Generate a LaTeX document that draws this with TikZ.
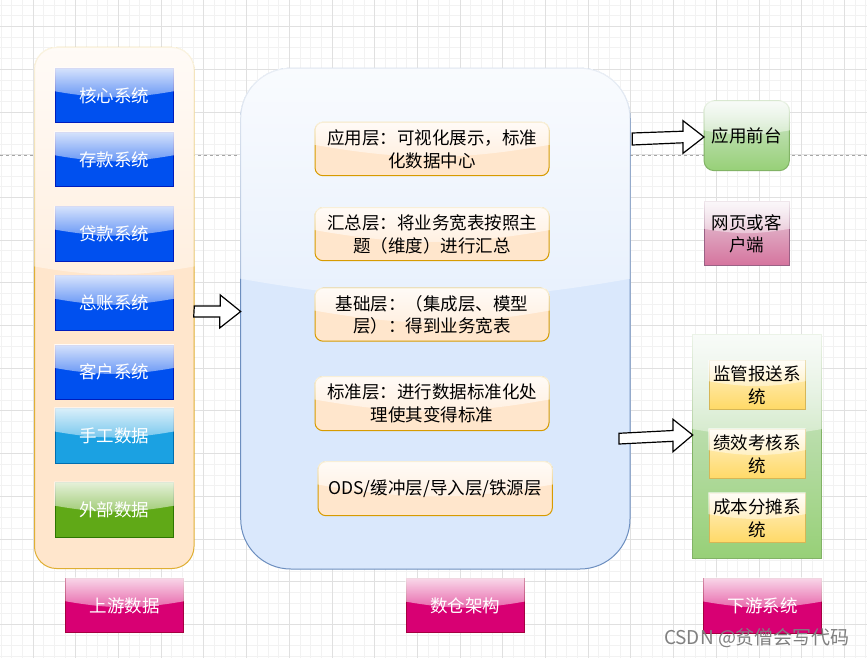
\documentclass[tikz,border=0pt]{standalone}
\usepackage{fontspec}
\setmainfont{Noto Sans CJK SC}
\usetikzlibrary{calc,fadings}
\pgfdeclarelayer{grid}
\pgfdeclarelayer{cont}
\pgfdeclarelayer{box}
\pgfsetlayers{grid,cont,box,main}
\definecolor{cblue}{HTML}{0050EF}
\definecolor{cblueb}{HTML}{001DBC}
\definecolor{ccyan}{HTML}{1BA1E2}
\definecolor{ccyanb}{HTML}{006EAF}
\definecolor{cgrn}{HTML}{60A917}
\definecolor{cgrnb}{HTML}{2D7600}
\definecolor{cpink}{HTML}{D80073}
\definecolor{cpinkb}{HTML}{A50040}
\definecolor{corg}{HTML}{FFE6CC}
\definecolor{corgb}{HTML}{D79B00}
\definecolor{cmid}{HTML}{DAE8FC}
\definecolor{cmidb}{HTML}{6C8EBF}
\definecolor{clg}{HTML}{D5E8D4}
\definecolor{cdg}{HTML}{97D077}
\definecolor{cgb}{HTML}{82B366}
\definecolor{cwt}{HTML}{E6D0DE}
\definecolor{cwb}{HTML}{D5739D}
\definecolor{cwbd}{HTML}{996185}
\definecolor{cyt}{HTML}{FFF2CC}
\definecolor{cyb}{HTML}{FFD966}
\definecolor{cybd}{HTML}{D6B656}
\tikzfading[name=glassfade, top color=transparent!15, bottom color=transparent!62]
% #1 layer, #2 node, #3 body top, #4 body bottom, #5 border, #6 radius
\newcommand\glassbox[6]{%
  \begin{pgfonlayer}{#1}
    \shade[rounded corners=#6, top color=#3, bottom color=#4] (#2.north west) rectangle (#2.south east);
    \draw[draw=#5, line width=1pt, rounded corners=#6] (#2.north west) rectangle (#2.south east);
    \begin{scope}
      \clip[rounded corners=#6] ([shift={(-0.6pt,0.6pt)}]#2.north west) rectangle ([shift={(0.6pt,-0.6pt)}]#2.south east);
      \fill[white, path fading=glassfade] ([shift={(-1pt,1pt)}]#2.north west) -- ([shift={(1pt,1pt)}]#2.north east)
        -- ($([xshift=1pt]#2.north east)!0.42!([xshift=1pt]#2.south east)$) to[bend left=10]
        ($([xshift=-1pt]#2.north west)!0.42!([xshift=-1pt]#2.south west)$) -- cycle;
    \end{scope}
  \end{pgfonlayer}}
\begin{document}
\begin{tikzpicture}[x=1pt,y=-1pt,
  every node/.style={inner sep=0pt,outer sep=0pt},
  txt/.style={font=\fontsize{17.5}{22.7}\selectfont, align=center},
  wtxt/.style={txt, text=white},
  minorg/.style={draw=black!5, line width=0.7pt},
  majorg/.style={draw=black!12, line width=0.7pt},
  barrow/.style={draw=black, fill=white, line width=1.2pt, line join=miter}]
\useasboundingbox (0,0) rectangle (867,658);
% grid
\begin{pgfonlayer}{grid}
  \fill[white] (0,0) rectangle (867,658);
  \foreach \i in {0,...,81} \draw[minorg] ({0.975+10.675*\i},0) -- ({0.975+10.675*\i},658);
  \foreach \j in {0,...,61} \draw[minorg] (0,{5.15+10.675*\j}) -- (867,{5.15+10.675*\j});
  \foreach \i in {0,...,19} \draw[majorg] ({33+42.7*\i},0) -- ({33+42.7*\i},658);
  \foreach \j in {0,...,14} \draw[majorg] (0,{26.5+42.7*\j}) -- (867,{26.5+42.7*\j});
  \draw[draw=black!35, line width=0.8pt, dash pattern=on 3pt off 3pt] (0,155) -- (867,155);
\end{pgfonlayer}
% containers
\node[minimum width=159.5pt, minimum height=521pt] (L) at (114.25,308) {};
\node[minimum width=389.3pt, minimum height=500.7pt] (M) at (435.35,318.65) {};
\node[minimum width=129pt, minimum height=223.7pt] (G) at (757.2,446.8) {};
% upstream systems
\node[wtxt, minimum width=118.3pt, minimum height=54.4pt] (b1) at (114.2,95.5) {核心系统};
\node[wtxt, minimum width=118.3pt, minimum height=54.4pt] (b2) at (114.2,159.5) {存款系统};
\node[wtxt, minimum width=118.3pt, minimum height=54.4pt] (b3) at (114.2,233.8) {贷款系统};
\node[wtxt, minimum width=118.3pt, minimum height=54.4pt] (b4) at (114.2,303) {总账系统};
\node[wtxt, minimum width=118.3pt, minimum height=54.4pt] (b5) at (114.2,372.2) {客户系统};
\node[wtxt, minimum width=118.3pt, minimum height=55pt] (b6) at (114.2,435.8) {手工数据};
\node[wtxt, minimum width=118.3pt, minimum height=55pt] (b7) at (114.2,510) {外部数据};
\node[wtxt, minimum width=117.7pt, minimum height=54.4pt] (lup) at (124.8,605.5) {上游数据};
% warehouse layers
\node[txt, minimum width=234pt, minimum height=53.4pt] (m1) at (432,149) {应用层：可视化展示，标准\\化数据中心};
\node[txt, minimum width=234pt, minimum height=53pt] (m2) at (432,234.2) {汇总层：将业务宽表按照主\\题（维度）进行汇总};
\node[txt, minimum width=234pt, minimum height=53pt] (m3) at (432,314.7) {基础层：（集成层、模型\\层）：得到业务宽表};
\node[txt, minimum width=234pt, minimum height=54pt] (m4) at (432,403.7) {标准层：进行数据标准化处\\理使其变得标准};
\node[txt, minimum width=234.3pt, minimum height=54pt] (m5) at (435.2,488.7) {ODS/缓冲层/导入层/铁源层};
\node[wtxt, minimum width=118pt, minimum height=53.7pt] (lmid) at (465,605.8) {数仓架构};
% downstream
\node[txt, minimum width=85.3pt, minimum height=69.7pt] (app) at (746.7,135.8) {应用前台};
\node[txt, minimum width=85.3pt, minimum height=64.3pt] (web) at (746.7,233.8) {网页或客\\户端};
\node[txt, minimum width=96pt, minimum height=48.6pt] (y1) at (757,385) {监管报送系\\统};
\node[txt, minimum width=96pt, minimum height=49.4pt] (y2) at (757,454) {绩效考核系\\统};
\node[txt, minimum width=96pt, minimum height=49.4pt] (y3) at (757,518) {成本分摊系\\统};
\node[wtxt, minimum width=117.7pt, minimum height=55pt] (ldown) at (762.8,605.8) {下游系统};
\node[font=\fontsize{19}{22}\selectfont, text=black!50] (wm) at (757,638.5) {CSDN @贫僧会写代码};
% shapes
\glassbox{cont}{L}{corg}{corg}{corgb!80!white}{22pt}
\glassbox{cont}{M}{cmid}{cmid}{cmidb}{50pt}
\glassbox{cont}{G}{clg}{cdg}{cgb}{0pt}
\foreach \n in {b1,b2,b3,b4,b5}{\glassbox{box}{\n}{cblue}{cblue}{cblueb}{0pt}}
\glassbox{box}{b6}{ccyan}{ccyan}{ccyanb}{0pt}
\glassbox{box}{b7}{cgrn}{cgrn}{cgrnb}{0pt}
\foreach \n in {lup,lmid,ldown}{\glassbox{box}{\n}{cpink}{cpink}{cpinkb}{0pt}}
\foreach \n in {m1,m2,m3,m4,m5}{\glassbox{box}{\n}{corg}{corg}{corgb}{8pt}}
\glassbox{box}{app}{clg}{cdg}{cgb}{10pt}
\glassbox{box}{web}{cwt}{cwb}{cwbd}{0pt}
\foreach \n in {y1,y2,y3}{\glassbox{box}{\n}{cyt}{cyb}{cybd}{0pt}}
% block arrows
\coordinate (a1s) at (194.3,311.5);
\coordinate (a1e) at (240.7,311.5);
\draw[barrow] (a1s) ++(0,-5.5) -- ++(26,0) -- ++(0,-11) -- (a1e) -- ++(-21,16.5) -- ++(0,-11) -- ++(-26,0) -- cycle;
\coordinate (a2s) at (632.3,139);
\coordinate (a2e) at (704,137);
\draw[barrow] (a2s) ++(0,-6) -- ++(50.7,-1.8) -- ++(0,-10.5) -- (a2e) -- ++(-21,16.3) -- ++(0,-10.5) -- ++(-50.7,2.2) -- cycle;
\coordinate (a3s) at (619,438.7);
\coordinate (a3e) at (692.7,435);
\draw[barrow] (a3s) ++(0,-5.4) -- ++(54,-2.8) -- ++(0,-11.2) -- (a3e) -- ++(-19.7,16.7) -- ++(0,-10.4) -- ++(-54,2.7) -- cycle;
\end{tikzpicture}
\end{document}
